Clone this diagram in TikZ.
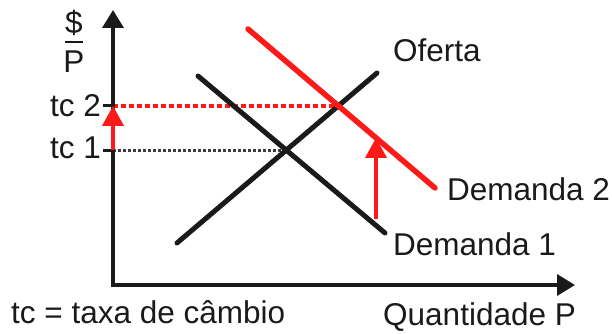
\documentclass[tikz,border=0pt]{standalone}
\usepackage{fontspec}
\setmainfont{Liberation Sans}
\usetikzlibrary{arrows.meta,intersections}
\definecolor{ink}{HTML}{1A1A1A}
\definecolor{redline}{HTML}{FF1A1A}
\begin{document}
\begin{tikzpicture}[x=1pt,y=-1pt,
  lbl/.style={font=\fontsize{31.5}{35}\selectfont, text=ink, inner sep=0pt, anchor=base west},
  lble/.style={lbl, anchor=base east},
  axisline/.style={line width=3.5pt, draw=ink, line join=miter, {Triangle[width=21pt,length=18pt]}-{Triangle[width=21pt,length=18pt]}},
  curve/.style={line width=5pt, draw=ink, line cap=round},
  shifted/.style={line width=5.5pt, draw=redline, line cap=round},
  shiftarrow/.style={line width=3.5pt, draw=redline, -{Triangle[width=21pt,length=20pt]}},
  guidered/.style={line width=3.5pt, draw=redline, dash pattern=on 5pt off 3pt},
  guideblack/.style={line width=3pt, draw=ink!85, dash pattern=on 3pt off 2pt},
  tick/.style={line width=3pt, draw=ink}]
\useasboundingbox (0,0) rectangle (612,334);
% coordinates
\coordinate (O) at (113,285);
\coordinate (Ytop) at (113,10);
\coordinate (Xend) at (575,285);
\coordinate (S1) at (177,243);
\coordinate (S2) at (377,73);
\coordinate (Da1) at (198,76);
\coordinate (Da2) at (385,233);
\coordinate (Db1) at (248,29);
\coordinate (Db2) at (435,188);
% curves
\path[name path=sup] (S1) -- (S2);
\path[name path=dem1] (Da1) -- (Da2);
\path[name path=dem2] (Db1) -- (Db2);
\path[name intersections={of=sup and dem1, by=E1}];
\path[name intersections={of=sup and dem2, by=E2}];
\coordinate (Y1) at (O |- E1);
\coordinate (Y2) at (O |- E2);
\coordinate (T1) at ([xshift=-10pt]Y1);
\coordinate (T2) at ([xshift=-10pt]Y2);
\coordinate (A0) at (376,219);
\path[name path=vert] (376,300) -- (376,0);
\path[name intersections={of=vert and dem2, by=A1}];
% guides
\draw[guideblack] (Y1) -- (E1);
\draw[guidered] (Y2) -- (E2);
% axes
\draw[axisline] (Ytop) -- (O) -- (Xend);
\draw[tick] (T1) -- (Y1);
\draw[tick] (T2) -- (Y2);
% curves
\draw[curve] (S1) -- (S2);
\draw[curve] (Da1) -- (Da2);
\draw[shifted] (Db1) -- (Db2);
% shift arrows
\draw[shiftarrow] (Y1) -- (Y2);
\draw[shiftarrow] (A0) -- (A1);
% labels
\node[lbl, anchor=base] (dollar) at (74,34) {\$};
\draw[line width=2.5pt, draw=ink] (65,42) -- (83,42);
\node[lbl, anchor=base] (pl) at (74,73) {P};
\node[lble] (tc2) at (101,116) {tc 2};
\node[lble] (tc1) at (101,158) {tc 1};
\node[lbl] (of) at (393,62) {Oferta};
\node[lbl] (d2) at (447,200) {Demanda 2};
\node[lbl] (d1) at (393,255) {Demanda 1};
\node[lbl] (qp) at (383,325) {Quantidade P};
\node[lbl] (tc) at (11,323) {tc = taxa de câmbio};
\end{tikzpicture}
\end{document}
